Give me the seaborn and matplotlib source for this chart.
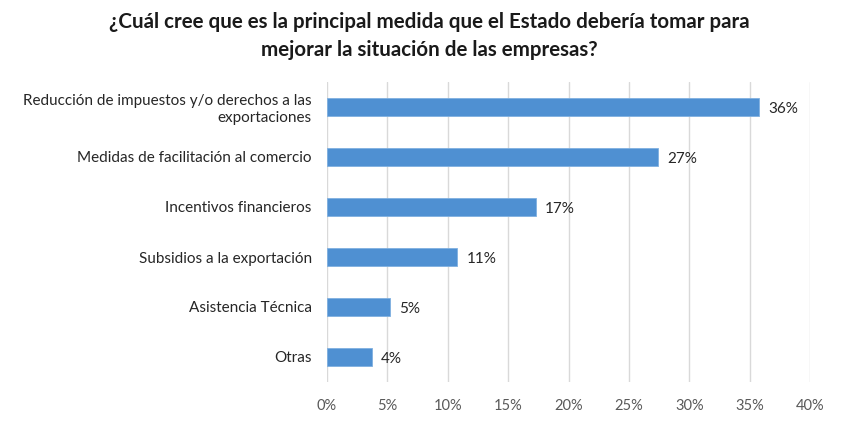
import matplotlib
matplotlib.use("Agg")
import matplotlib.pyplot as plt
import seaborn as sns
import pandas as pd
from matplotlib.ticker import PercentFormatter

categories = [
    "Reducción de impuestos y/o derechos a las\nexportaciones",
    "Medidas de facilitación al comercio",
    "Incentivos financieros",
    "Subsidios a la exportación",
    "Asistencia Técnica",
    "Otras",
]
values = [35.8, 27.4, 17.3, 10.8, 5.2, 3.7]
value_labels = ["36%", "27%", "17%", "11%", "5%", "4%"]
xticks = [0, 5, 10, 15, 20, 25, 30, 35, 40]

title = "¿Cuál cree que es la principal medida que el Estado debería tomar para\nmejorar la situación de las empresas?"

sns.set_theme(style="white")
plt.rcParams["font.family"] = ["Lato", "DejaVu Sans"]

df = pd.DataFrame({"cat": categories, "val": values})

fig = plt.figure(figsize=(8.59, 4.34), dpi=100)
ax = fig.add_axes([327 / 859, 1 - 382 / 434, (810 - 327) / 859, (382 - 82) / 434])

sns.barplot(data=df, x="val", y="cat", orient="h", color="#4F90D2",
            width=0.36, ax=ax, saturation=1, edgecolor="#7FB0E0", linewidth=0.6)

ax.set_xlim(0, 40)
ax.set_xticks(xticks)
ax.xaxis.set_major_formatter(PercentFormatter(decimals=0))
ax.grid(axis="x", color="#D9D9D9", linewidth=1)
ax.set_axisbelow(True)
for s in ax.spines.values():
    s.set_visible(False)
ax.set_xlabel("")
ax.set_ylabel("")
ax.tick_params(axis="x", colors="#595959", labelsize=10.5, length=0, pad=12)
ax.tick_params(axis="y", colors="#262626", labelsize=11, length=0, pad=11)
for lbl in ax.get_xticklabels():
    lbl.set_color("#595959")
for lbl in ax.get_yticklabels():
    lbl.set_color("#262626")

for i, (v, t) in enumerate(zip(values, value_labels)):
    ax.text(v + 0.75, i + 0.04, t, va="center", ha="left", fontsize=11, color="#262626")

fig.text(0.5, 1 - 36 / 434, title, ha="center", va="center", fontsize=14.8,
         fontweight="bold", color="#1a1a1a", linespacing=1.45)

fig.savefig("out.png", dpi=100, facecolor="white")
